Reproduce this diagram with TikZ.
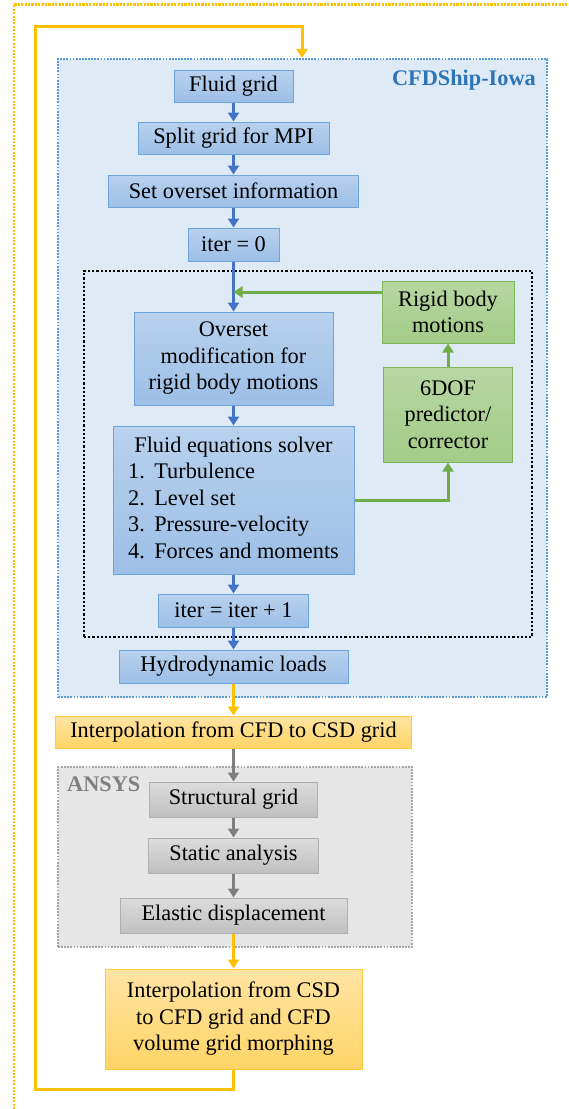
\documentclass[tikz,border=0pt]{standalone}
\usepackage{fontspec}
\setmainfont{Liberation Serif}
\usetikzlibrary{arrows.meta}

% palette
\definecolor{bluetop}{HTML}{B9D1ED}
\definecolor{bluebot}{HTML}{9CBFE7}
\definecolor{blueborder}{HTML}{6FA5DD}
\definecolor{bluearrow}{HTML}{4472C4}
\definecolor{bluefill}{HTML}{DEEAF6}
\definecolor{blueframe}{HTML}{5B9BD5}
\definecolor{bluetitle}{HTML}{2E75B6}
\definecolor{greentop}{HTML}{B7D7A2}
\definecolor{greenbot}{HTML}{A3CB88}
\definecolor{greenborder}{HTML}{7DB659}
\definecolor{greenarrow}{HTML}{70AD47}
\definecolor{yellowtop}{HTML}{FFE4A3}
\definecolor{yellowbot}{HTML}{FFD466}
\definecolor{yellowborder}{HTML}{FFC93C}
\definecolor{yellowarrow}{HTML}{FFC000}
\definecolor{graytop}{HTML}{DCDCDC}
\definecolor{graybot}{HTML}{C0C0C0}
\definecolor{grayborder}{HTML}{AFAFAF}
\definecolor{grayarrow}{HTML}{7F7F7F}
\definecolor{grayfill}{HTML}{E6E6E6}
\definecolor{grayframe}{HTML}{A6A6A6}
\definecolor{graytitle}{HTML}{808080}

\tikzset{
  box/.style={draw, line width=1pt, inner sep=0pt, align=center,
    font=\fontsize{22.3}{26.5}\selectfont},
  bluebox/.style={box, draw=blueborder, top color=bluetop, bottom color=bluebot},
  greenbox/.style={box, draw=greenborder, top color=greentop, bottom color=greenbot},
  yellowbox/.style={box, draw=yellowborder, top color=yellowtop, bottom color=yellowbot},
  graybox/.style={box, draw=grayborder, top color=graytop, bottom color=graybot},
  region/.style={inner sep=0pt, line width=2.2pt, dash pattern=on 1.8pt off 1.3pt},
  tip/.style={-{Triangle[width=11pt,length=9pt]}},
  ablue/.style={tip, line width=3pt, draw=bluearrow},
  agreen/.style={tip, line width=3pt, draw=greenarrow},
  ayellow/.style={tip, line width=3pt, draw=yellowarrow},
  agray/.style={tip, line width=3pt, draw=grayarrow},
  title/.style={font=\bfseries\fontsize{22.3}{26.5}\selectfont, inner sep=0pt}
}

\begin{document}
\begin{tikzpicture}[x=1pt,y=-1pt]
\useasboundingbox (0,0) rectangle (568,1109);
\fill[white] (0,0) rectangle (568,1109);

% outer dotted frame
\draw[yellowarrow, line width=2.6pt, dash pattern=on 2.1pt off 1.3pt]
  (14,1109) -- (14,4.5) -- (568,4.5);

% CFD solver region
\node[region, draw=blueframe, fill=bluefill, minimum width=489pt, minimum height=638pt]
  (cfd) at (302.5,378) {};
\node[title, text=bluetitle, anchor=base east] (cfdname) at (536,85) {CFDShip-Iowa};

% time-step loop
\node[inner sep=0pt, draw=black, line width=2.4pt, dash pattern=on 2.2pt off 2pt,
  minimum width=448pt, minimum height=366pt] (loop) at (308,454) {};

% structural solver region
\node[region, draw=grayframe, fill=grayfill, minimum width=354pt, minimum height=180pt]
  (ansys) at (235,857) {};
\node[title, text=graytitle, anchor=base west] (ansysname) at (67,791) {ANSYS};

% flow-solver steps
\node[bluebox, minimum width=119pt, minimum height=32pt] (fluid) at (233.5,86) {Fluid grid};
\node[bluebox, minimum width=191pt, minimum height=32pt] (split) at (233.5,138) {Split grid for MPI};
\node[bluebox, minimum width=250pt, minimum height=32pt] (setov) at (233.5,191) {Set overset information};
\node[bluebox, minimum width=91pt, minimum height=33pt] (iter0) at (233.5,244.5) {iter = 0};
\node[bluebox, minimum width=199pt, minimum height=93pt] (ovmod) at (233.5,358.5)
  {Overset\\modification for\\rigid body motions};
\node[bluebox, minimum width=241pt, minimum height=148pt] (solver) at (233.5,500)
  {\begin{tabular}{@{}l@{\hspace{9.5pt}}l@{}}
    \multicolumn{2}{c}{Fluid equations solver}\\
    1. & Turbulence\\
    2. & Level set\\
    3. & Pressure-velocity\\
    4. & Forces and moments
  \end{tabular}};
\node[bluebox, minimum width=150pt, minimum height=33pt] (iter1) at (233.5,610.5) {iter = iter + 1};
\node[bluebox, minimum width=229pt, minimum height=33pt] (hydro) at (233.5,666.5) {Hydrodynamic loads};

% rigid body motion steps
\node[greenbox, minimum width=132pt, minimum height=62pt] (rigid) at (448,312) {Rigid body\\motions};
\node[greenbox, minimum width=129pt, minimum height=95pt] (sixdof) at (448,414.5)
  {6DOF\\predictor/\\corrector};

% coupling and structural steps
\node[yellowbox, minimum width=356pt, minimum height=32pt] (interp1) at (233.5,732)
  {Interpolation from CFD to CSD grid};
\node[graybox, minimum width=168pt, minimum height=35pt] (struct) at (233.5,799.5) {Structural grid};
\node[graybox, minimum width=170pt, minimum height=35pt] (static) at (233.5,855.5) {Static analysis};
\node[graybox, minimum width=227pt, minimum height=35pt] (elastic) at (233.5,915.5) {Elastic displacement};
\node[yellowbox, minimum width=257pt, minimum height=100pt] (interp2) at (233.5,1019)
  {Interpolation from CSD\\to CFD grid and CFD\\volume grid morphing};

% connectors
\coordinate (join) at (233.5,292);
\coordinate (lb) at (35,1089);
\coordinate (lt) at (35,26);
\coordinate (rt) at (302,26);

\draw[ablue] (fluid) -- (split);
\draw[ablue] (split) -- (setov);
\draw[ablue] (setov) -- (iter0);
\draw[ablue] (iter0) -- (ovmod);
\draw[ablue] (ovmod) -- (solver);
\draw[ablue] (solver) -- (iter1);
\draw[ablue] (iter1) -- (hydro);

\draw[agreen] (solver.east) -| (sixdof.south);
\draw[agreen] (sixdof) -- (rigid);
\draw[agreen] (rigid.west |- join) -- (join);

\draw[ayellow] (hydro) -- (interp1);
\draw[agray] (interp1) -- (struct);
\draw[agray] (struct) -- (static);
\draw[agray] (static) -- (elastic);
\draw[ayellow] (elastic) -- (interp2);

\draw[ayellow] (interp2.south) |- (lb) -- (lt) -- (rt) -- (rt |- cfd.north);
\end{tikzpicture}
\end{document}
